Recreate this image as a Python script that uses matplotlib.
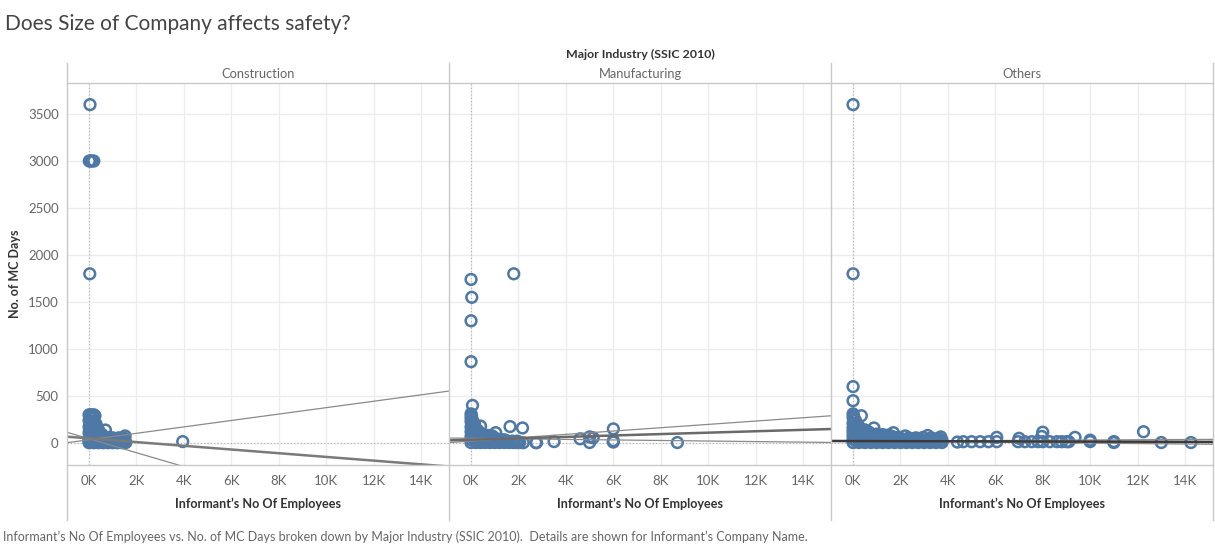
import matplotlib
matplotlib.use('Agg')
import matplotlib.pyplot as plt
from matplotlib.lines import Line2D
from matplotlib.ticker import FuncFormatter, FixedLocator
import numpy as np

plt.rcParams['font.family'] = ['Lato', 'DejaVu Sans']

# ---------------- data ----------------
industries = ['Construction', 'Manufacturing', 'Others']

construction_points = [
    (40, 3600),
    (10, 3000), (60, 3000), (120, 3000), (200, 3000),
    (30, 1800),
    (0, 300), (100, 300), (200, 300), (250, 290),
    (690, 138),
    (0, 240), (100, 230), (200, 220), (300, 200), (75, 270), (175, 260),
    (0, 170), (150, 160), (300, 150), (400, 140), (50, 190), (250, 180),
    (0, 110), (150, 110), (300, 100), (450, 95), (550, 90),
    (75, 130), (225, 125), (375, 120),
    (0, 60), (150, 60), (300, 60), (450, 55), (600, 55), (700, 50),
    (75, 80), (225, 80), (375, 80), (525, 75), (850, 60), (1000, 55), (1250, 55), (1500, 50),
    (0, 40), (200, 40), (400, 40), (600, 35), (800, 35), (1000, 40), (1200, 40), (1350, 40),
    (100, 28), (300, 28), (500, 28), (700, 28), (900, 25), (1100, 25), (1300, 25), (1450, 30),
    (0, 15), (150, 15), (300, 15), (450, 15), (600, 15), (750, 15), (900, 15), (1050, 15), (1200, 15), (1350, 15),
    (0, 3), (200, 3), (400, 3), (600, 3), (800, 3), (1000, 3), (1200, 3), (1400, 3), (1550, 5),
    (1520, 75), (1520, 15), (1100, 45), (3950, 15),
]

manufacturing_points = [
    (0, 1740), (30, 1550), (0, 1300), (0, 865), (1800, 1800),
    (60, 400), (0, 310), (20, 290), (0, 270), (50, 250),
    (0, 230), (100, 220), (150, 200), (50, 190),
    (0, 170), (100, 160), (200, 150), (300, 130), (50, 140), (250, 130),
    (0, 120), (150, 110), (300, 100), (450, 90), (600, 85), (750, 80), (900, 75),
    (100, 90), (350, 80),
    (0, 70), (200, 70), (400, 65), (600, 60), (800, 55), (1000, 50), (1200, 40), (1400, 35),
    (100, 50), (350, 50), (550, 45), (700, 45), (900, 40),
    (0, 35), (250, 35), (500, 30), (750, 30), (1000, 30), (1250, 25), (1500, 25), (1750, 20), (1950, 20),
    (1100, 15), (1300, 15), (1500, 15), (1700, 10), (1900, 10),
    (0, 5), (200, 5), (400, 5), (600, 5), (800, 5), (1000, 5), (1200, 5), (1400, 5), (1600, 5), (1800, 5), (1950, 5),
    (400, 180), (1040, 110), (1645, 175), (2170, 160),
    (2050, 5), (2200, 3), (2730, 5), (2760, 3), (3500, 15), (4600, 45),
    (5000, 65), (5150, 55), (5000, 5), (6000, 150), (6000, 25), (6000, 10), (8700, 5),
]

others_points = [
    (0, 3600), (0, 1800), (0, 600), (0, 450), (0, 310), (20, 290), (350, 290),
    (0, 270), (50, 250), (100, 240),
    (0, 210), (100, 200), (200, 190), (50, 180), (250, 175),
    (0, 160), (150, 160), (300, 150), (500, 140), (880, 160),
    (100, 140), (350, 130), (650, 120),
    (0, 120), (250, 120), (500, 110), (750, 100), (1000, 95), (1250, 90), (1500, 85), (1700, 110),
    (150, 100), (400, 95), (650, 90), (850, 85), (1100, 75), (1350, 75), (1650, 70), (1950, 60),
    (0, 80), (300, 80), (600, 75), (900, 70), (1200, 65), (1500, 60), (1800, 55), (2200, 75),
    (2500, 45), (2800, 40), (3150, 80), (3400, 40), (3700, 65),
    (2350, 55), (2650, 55), (2950, 60), (3300, 55), (3600, 50),
    (0, 40), (250, 40), (500, 40), (750, 40), (1000, 40), (1250, 40), (1500, 35), (1750, 35),
    (2000, 35), (2250, 35), (2500, 30), (2750, 30), (3000, 30), (3250, 30), (3500, 30), (3750, 30),
    (125, 20), (375, 20), (625, 20), (875, 20), (1125, 20), (1375, 20), (1625, 20), (1875, 20),
    (2125, 20), (2375, 20), (2625, 20), (2875, 20), (3125, 20), (3375, 20), (3625, 20),
    (0, 5), (250, 5), (500, 5), (750, 5), (1000, 5), (1250, 5), (1500, 5), (1750, 5),
    (2000, 5), (2250, 5), (2500, 5), (2750, 5), (3000, 5), (3250, 5), (3500, 5), (3750, 5),
    (4400, 10), (4650, 14), (5000, 14), (5360, 14), (5710, 14), (6060, 14), (6060, 60),
    (6960, 14), (7000, 50), (7250, 14), (7540, 14), (7800, 14), (7960, 70), (8000, 115),
    (8000, 14), (8300, 14), (8600, 14), (8800, 14), (9000, 14), (9100, 14), (9360, 60),
    (10000, 30), (10000, 15), (11000, 15), (11000, 5), (12250, 120), (13000, 5), (14250, 5),
]

# linear trend line and its confidence band edges (intercept, slope) per industry
fit_intercept = [49, 35, 21]
fit_slope = [-0.0197, 0.0075, -0.0006]
upper_intercept = [35, 21, 19]
upper_slope = [0.0341, 0.0177, 0.0013]
lower_intercept = [45, 50, 24]
lower_slope = [-0.0741, -0.0029, -0.00248]

x_ticks = [0, 2000, 4000, 6000, 8000, 10000, 12000, 14000]
y_ticks = [0, 500, 1000, 1500, 2000, 2500, 3000, 3500]

# ---------------- layout ----------------
W, H = 1215, 549
fig = plt.figure(figsize=(W / 100, H / 100), dpi=100)


def fx(x):
    return x / W


def fy(y):
    return 1 - y / H


panel_left = [67, 449, 831]
panel_w = 382
plot_top, plot_bot = 83, 465
xlim = (-930, 15180)
ylim = (-234, 3830)

marker_color = '#4e79a7'
grid_color = '#ececec'
border_color = '#c8c8c8'
fit_colors = ['#7a7a7a', '#6a6a6a', '#3a3a3a']

all_points = [construction_points, manufacturing_points, others_points]

for i, name in enumerate(industries):
    ax = fig.add_axes([fx(panel_left[i]), fy(plot_bot), panel_w / W, (plot_bot - plot_top) / H])
    ax.set_xlim(*xlim)
    ax.set_ylim(*ylim)
    for s in ax.spines.values():
        s.set_visible(False)
    ax.xaxis.set_major_locator(FixedLocator(x_ticks))
    ax.yaxis.set_major_locator(FixedLocator(y_ticks))
    ax.xaxis.set_major_formatter(FuncFormatter(lambda v, p: f'{int(round(v / 1000))}K'))
    ax.grid(True, color=grid_color, lw=1.0, zorder=0)
    ax.set_axisbelow(True)
    ax.tick_params(axis='both', length=0, labelsize=9.5, labelcolor='#666666')
    ax.tick_params(axis='x', pad=7.5)
    ax.tick_params(axis='y', pad=6)
    if i > 0:
        ax.tick_params(axis='y', labelleft=False)
    else:
        ax.set_ylabel('No. of MC Days', fontsize=9.0, fontweight='bold', color='#333333', labelpad=5)
    ax.set_xlabel('Informant\u2019s No Of Employees', fontsize=9.1, fontweight='bold',
                  color='#333333', labelpad=7.5)

    # zero lines
    ax.axhline(0, color='#b0b0b0', lw=0.8, ls=(0, (1, 2)), zorder=1)
    ax.axvline(0, color='#b0b0b0', lw=0.8, ls=(0, (1, 2)), zorder=1)

    pts = all_points[i]
    xs = [p[0] for p in pts]
    ys = [p[1] for p in pts]
    ax.scatter(xs, ys, s=60, facecolors='none', edgecolors=marker_color, linewidths=1.8, zorder=3)

    xl = np.array(xlim, dtype=float)
    ax.plot(xl, upper_intercept[i] + upper_slope[i] * xl, color='#8a8a8a', lw=0.9, zorder=4)
    ax.plot(xl, lower_intercept[i] + lower_slope[i] * xl, color='#8a8a8a', lw=0.9, zorder=4)
    ax.plot(xl, fit_intercept[i] + fit_slope[i] * xl, color=fit_colors[i], lw=1.8, zorder=5)
    ax.set_xlim(*xlim)
    ax.set_ylim(*ylim)

    fig.text(fx(panel_left[i] + panel_w / 2), fy(74.5), name, ha='center', va='center',
             fontsize=9.3, color='#666666')

# borders
for x in [67, 449, 831, 1213]:
    fig.add_artist(Line2D([fx(x), fx(x)], [fy(63), fy(520)], color=border_color, lw=1.0))
for y in [83, 465]:
    fig.add_artist(Line2D([fx(67), fx(1213)], [fy(y), fy(y)], color=border_color, lw=1.0))

fig.text(fx(5), fy(23.5), 'Does Size of Company affects safety?', ha='left', va='center',
         fontsize=15.0, color='#444444')
fig.text(fx(640), fy(54.5), 'Major Industry (SSIC 2010)', ha='center', va='center',
         fontsize=8.9, fontweight='bold', color='#333333')
fig.text(fx(3), fy(537),
         'Informant\u2019s No Of Employees vs. No. of MC Days broken down by Major Industry (SSIC 2010).  '
         'Details are shown for Informant\u2019s Company Name.',
         ha='left', va='center', fontsize=9.0, color='#666666')

fig.savefig('out.png', dpi=100)
